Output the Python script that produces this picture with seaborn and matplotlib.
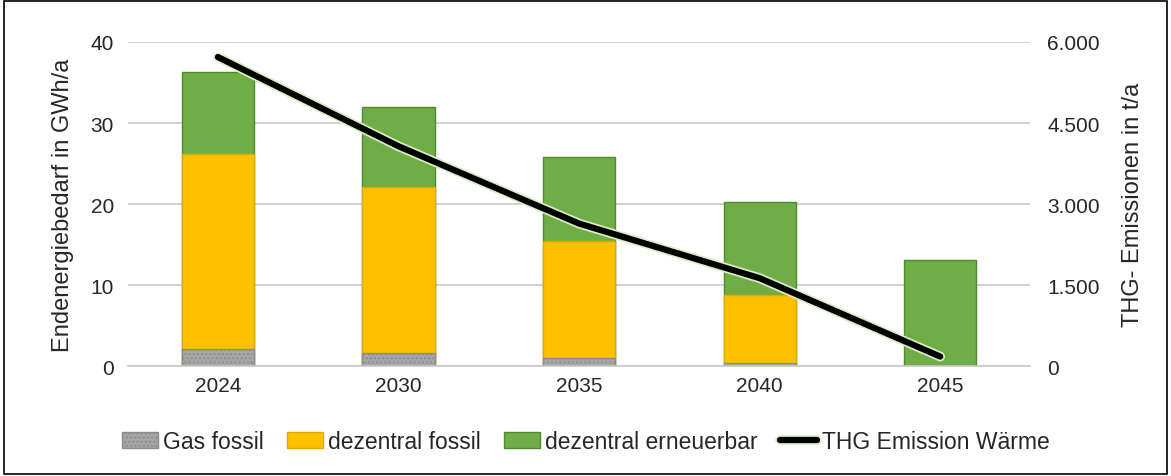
import numpy as np
import pandas as pd
import seaborn as sns
import matplotlib.pyplot as plt
import matplotlib.patheffects as pe

years = ["2024", "2030", "2035", "2040", "2045"]
gas_fossil = [2.1, 1.6, 1.0, 0.4, 0.0]
dezentral_fossil = [24.1, 20.5, 14.4, 8.4, 0.0]
dezentral_erneuerbar = [10.1, 9.9, 10.4, 11.4, 13.1]
thg_emission = [5720, 4070, 2640, 1630, 180]

df = pd.DataFrame({
    "year": years,
    "gas": gas_fossil,
    "fossil": dezentral_fossil,
    "erneuerbar": dezentral_erneuerbar,
    "thg": thg_emission,
})
df["fossil_top"] = df["gas"] + df["fossil"]
df["total"] = df["fossil_top"] + df["erneuerbar"]

sns.set_style("white")
plt.rcParams["font.family"] = ["Liberation Sans", "DejaVu Sans"]

fig, ax = plt.subplots(figsize=(11.71, 4.77), dpi=100)
fig.subplots_adjust(left=0.109, right=0.88, top=0.91, bottom=0.23)

# stacked bars drawn as overlapping cumulative totals
sns.barplot(data=df, x="year", y="total", color="#70ad47", edgecolor="#4f8a2c",
            linewidth=1, width=0.4, saturation=1, ax=ax, label="dezentral erneuerbar")
sns.barplot(data=df, x="year", y="fossil_top", color="#ffc000", edgecolor="#e0a800",
            linewidth=1, width=0.4, saturation=1, ax=ax, label="dezentral fossil")
sns.barplot(data=df, x="year", y="gas", color="#a6a6a6", edgecolor="#8c8c8c",
            linewidth=1, width=0.4, saturation=1, ax=ax, hatch="....", label="Gas fossil")
if ax.get_legend() is not None:
    ax.get_legend().remove()

ax.set_ylim(0, 40)
ax.set_yticks([0, 10, 20, 30, 40])
ax.set_xlabel("")
ax.set_ylabel("Endenergiebedarf in GWh/a", fontsize=17, labelpad=12)
ax.tick_params(axis="y", labelsize=15, length=0, pad=10)
ax.tick_params(axis="x", labelsize=15, length=0, pad=7)
ax.yaxis.grid(True, color="#c8c8c8", linewidth=1.2)
ax.set_axisbelow(True)
for s in ["top", "left", "right"]:
    ax.spines[s].set_visible(False)
ax.spines["bottom"].set_color("#c8c8c8")
ax.spines["bottom"].set_linewidth(1.2)

ax2 = ax.twinx()
sns.lineplot(x=np.arange(len(years)), y=df["thg"], color="black", linewidth=4.5,
             ax=ax2, label="THG Emission Wärme", legend=False,
             path_effects=[pe.Stroke(linewidth=7, foreground="#d8f0c8"), pe.Normal()],
             solid_capstyle="round")
ax2.set_ylim(0, 6000)
ax2.set_yticks([0, 1500, 3000, 4500, 6000])
ax2.set_yticklabels(["0", "1.500", "3.000", "4.500", "6.000"])
ax2.set_ylabel("THG- Emissionen in t/a", fontsize=17, labelpad=16)
ax2.tick_params(axis="y", labelsize=15, length=0, pad=12)
for s in ax2.spines.values():
    s.set_visible(False)
ax.set_xlim(-0.5, len(years) - 0.5)

h1, l1 = ax.get_legend_handles_labels()
h2, l2 = ax2.get_legend_handles_labels()
order = [2, 1, 0]
handles = [h1[i] for i in order] + h2
labels = [l1[i] for i in order] + l2
fig.legend(handles, labels, loc="lower center", ncol=4, frameon=False, fontsize=16.5,
           bbox_to_anchor=(0.5, 0.005), handlelength=1.6, handletextpad=0.2,
           columnspacing=1.0)

fig.patches.append(plt.Rectangle((0.003, 0.004), 0.994, 0.992, transform=fig.transFigure,
                                 fill=False, edgecolor="black", linewidth=1.2))

fig.savefig("out.png", dpi=100)
